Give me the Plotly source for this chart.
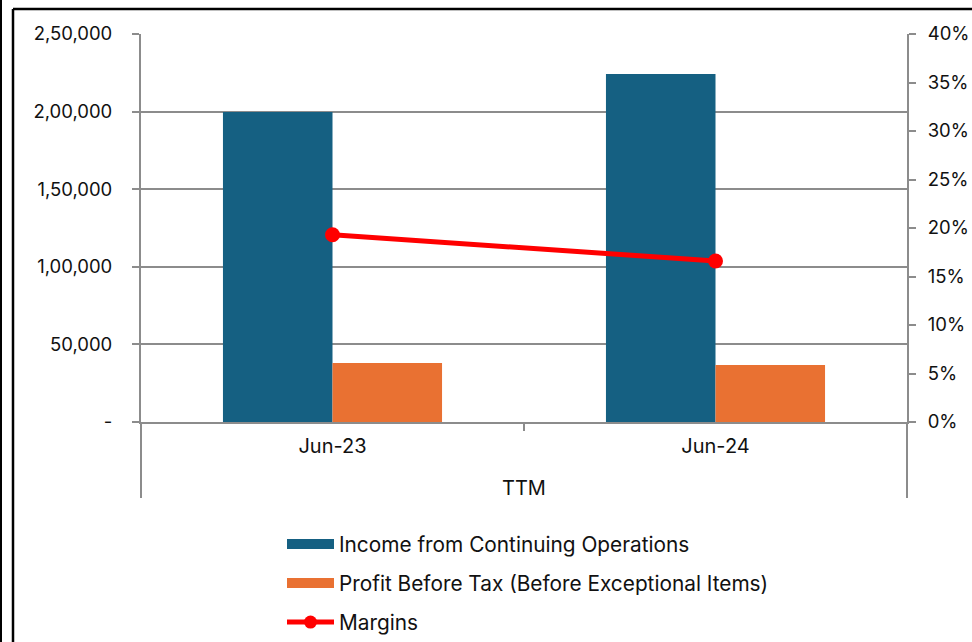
import plotly.graph_objects as go

# ---- data ----
periods = ["Jun-23", "Jun-24"]
x_title = "TTM"
income = [199800, 224200]
pbt = [38000, 36800]
margins = [0.193, 0.166]

left_tickvals = [0, 50000, 100000, 150000, 200000, 250000]
left_ticktext = ["-", "50,000", "1,00,000", "1,50,000", "2,00,000", "2,50,000"]
right_tickvals = [0, 0.05, 0.10, 0.15, 0.20, 0.25, 0.30, 0.35, 0.40]
right_ticktext = ["0%", "5%", "10%", "15%", "20%", "25%", "30%", "35%", "40%"]

names = ["Income from Continuing Operations",
         "Profit Before Tax (Before Exceptional Items)",
         "Margins"]

# ---- style ----
W, H = 972, 642
L, R, T, B = 141, 65, 34, 220
BLUE = "#156082"
ORANGE = "#E97132"
RED = "#FF0000"
GRID = "#8C8C8C"
FONT = "Inter"
TXT = "#111111"

pw = W - L - R
ph = H - T - B


def px_x(x):
    return (x - L) / pw


def px_y(y):
    return (H - B - y) / ph


fig = go.Figure()
fig.add_trace(go.Bar(x=periods, y=income, name=names[0], marker_color=BLUE,
                     marker_line_width=0, showlegend=False))
fig.add_trace(go.Bar(x=periods, y=pbt, name=names[1], marker_color=ORANGE,
                     marker_line_width=0, showlegend=False))
fig.add_trace(go.Scatter(x=periods, y=margins, name=names[2], yaxis="y2",
                         mode="lines+markers",
                         line=dict(color=RED, width=5),
                         marker=dict(color=RED, size=15),
                         showlegend=False))

# legend proxies (no data points)
fig.add_trace(go.Scatter(x=[None], y=[None], mode="lines", name=names[0],
                         legendgroup="g1", line=dict(color=BLUE, width=12)))
fig.add_trace(go.Scatter(x=[None], y=[None], mode="lines", name=names[1],
                         legendgroup="g2", line=dict(color=ORANGE, width=12)))
fig.add_trace(go.Scatter(x=[None], y=[None], mode="lines+markers", name=names[2],
                         legendgroup="g3", line=dict(color=RED, width=5),
                         marker=dict(color=RED, size=13)))

border_shapes = [
    dict(type="line", xref="paper", yref="paper",
         x0=px_x(1), x1=px_x(1), y0=px_y(-5), y1=px_y(H + 5),
         line=dict(color="black", width=2)),
    dict(type="line", xref="paper", yref="paper",
         x0=px_x(13), x1=px_x(W + 5), y0=px_y(9), y1=px_y(9),
         line=dict(color="black", width=2.5)),
    dict(type="line", xref="paper", yref="paper",
         x0=px_x(13), x1=px_x(13), y0=px_y(9), y1=px_y(H + 5),
         line=dict(color="black", width=2.5)),
    # category-group dividers below the axis
    dict(type="line", xref="paper", yref="paper",
         x0=0, x1=0, y0=0, y1=px_y(498),
         line=dict(color=GRID, width=2)),
    dict(type="line", xref="paper", yref="paper",
         x0=1, x1=1, y0=0, y1=px_y(498),
         line=dict(color=GRID, width=2)),
]

fig.update_layout(
    width=W, height=H,
    margin=dict(l=L, r=R, t=T, b=B),
    paper_bgcolor="white", plot_bgcolor="white",
    font=dict(family=FONT, size=18, color=TXT),
    barmode="group", bargap=0.428, bargroupgap=0,
    showlegend=True,
    legend=dict(x=px_x(282), xref="paper",
                y=(H - 524) / H, yref="container",
                xanchor="left", yanchor="top",
                orientation="v", itemwidth=47, tracegroupgap=9,
                font=dict(size=20.8, color=TXT)),
    xaxis=dict(showline=True, linecolor=GRID, linewidth=2, automargin=False,
               ticks="outside", ticklen=7, tickcolor=GRID, tickwidth=2,
               tickson="boundaries", ticklabelstandoff=5,
               showgrid=False, tickfont=dict(size=20, color=TXT),
               title=dict(text=x_title, standoff=24,
                          font=dict(size=20, color=TXT))),
    yaxis=dict(range=[0, 250000], tickvals=left_tickvals, ticktext=left_ticktext,
               showline=True, linecolor=GRID, linewidth=2, automargin=False,
               ticks="outside", ticklen=7, tickcolor=GRID, tickwidth=2,
               ticklabelstandoff=16,
               showgrid=True, gridcolor=GRID, gridwidth=2, zeroline=False,
               tickfont=dict(size=18.5, color=TXT)),
    yaxis2=dict(range=[0, 0.40], tickvals=right_tickvals, ticktext=right_ticktext,
                overlaying="y", side="right",
                showline=True, linecolor=GRID, linewidth=2, automargin=False,
                ticks="outside", ticklen=7, tickcolor=GRID, tickwidth=2,
                ticklabelstandoff=8,
                showgrid=False, zeroline=False,
                tickfont=dict(size=18.5, color=TXT)),
    shapes=border_shapes,
)

fig.write_html("out.html", config={"displayModeBar": False},
               post_script="document.body.style.margin='0px';")
